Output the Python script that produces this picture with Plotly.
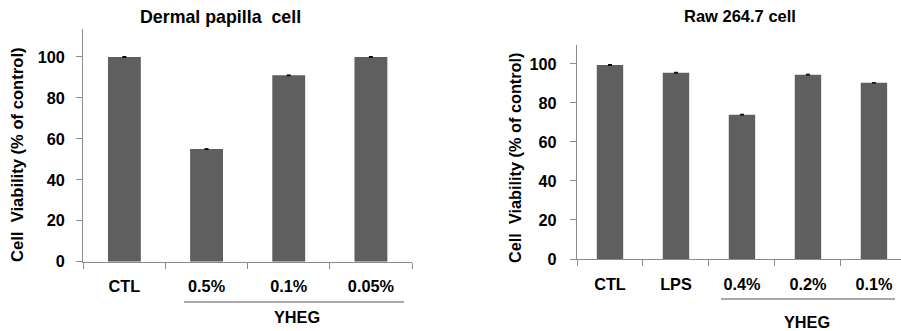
import plotly.graph_objects as go

W, H = 901, 331

# Data
left_title = "Dermal papilla  cell"
left_categories = ["CTL", "0.5%", "0.1%", "0.05%"]
left_values = [100, 55, 91, 100]
left_errors = [0.2, 0.2, 0.2, 0.2]

right_title = "Raw 264.7 cell"
right_categories = ["CTL", "LPS", "0.4%", "0.2%", "0.1%"]
right_values = [99.5, 95.5, 74, 94.5, 90.3]
right_errors = [0.2, 0.2, 0.2, 0.2, 0.0]

y_title = "Cell  Viability (% of control)"
group_label = "YHEG"

BAR = "#5f5f5f"
AXIS = "#8c8c8c"
FONT = "Liberation Sans, Arial, sans-serif"


def px(x):
    return x / W


def py(y):
    return 1 - y / H


fig = go.Figure()
fig.add_trace(go.Bar(
    x=left_categories, y=left_values, xaxis="x", yaxis="y",
    marker=dict(color=BAR, line=dict(width=0)), width=0.4,
    error_y=dict(type="data", array=left_errors, color="black", thickness=1, width=2),
    showlegend=False,
))
fig.add_trace(go.Bar(
    x=right_categories, y=right_values, xaxis="x2", yaxis="y2",
    marker=dict(color=BAR, line=dict(width=0)), width=0.4,
    error_y=dict(type="data", array=right_errors, color="black", thickness=1, width=2),
    showlegend=False,
))

tickfont = dict(family=FONT, size=16.3, color="black", weight="bold")
common_x = dict(type="category", showline=True, linecolor=AXIS, linewidth=1.3,
                ticks="outside", tickson="boundaries", ticklen=6, tickcolor=AXIS,
                tickwidth=1.3, showgrid=False, zeroline=False, tickfont=tickfont,
                fixedrange=True, automargin=False)
common_y = dict(showline=True, linecolor=AXIS, linewidth=1.3, ticks="outside",
                ticklen=6, tickcolor=AXIS, tickwidth=1.3, showgrid=False,
                zeroline=False, tickfont=tickfont, tickmode="linear", tick0=0,
                dtick=20, fixedrange=True, automargin=False)

fig.update_layout(
    width=W, height=H,
    margin=dict(l=0, r=0, t=0, b=0, pad=0, autoexpand=False),
    paper_bgcolor="white", plot_bgcolor="white",
    xaxis=dict(common_x, domain=[px(83.3), px(412)], anchor="y",
               range=[-0.5, 3.5], ticklabelstandoff=10),
    yaxis=dict(common_y, domain=[py(261.7), py(29.3)], anchor="x",
               range=[0, 113.5], ticklabelstandoff=8),
    xaxis2=dict(common_x, domain=[px(577), 1], anchor="y2",
                range=[-0.5, 4.41], ticklabelstandoff=10),
    yaxis2=dict(common_y, domain=[py(259), py(45)], anchor="x2",
                range=[0, 109.7], ticklabelstandoff=10),
    bargap=0.6,
)

ann = []
ann.append(dict(text=left_title, x=px(220), y=py(17), xref="paper", yref="paper",
                showarrow=False, xanchor="center", yanchor="middle",
                font=dict(family=FONT, size=17.8, color="black", weight="bold")))
ann.append(dict(text=right_title, x=px(740), y=py(16), xref="paper", yref="paper",
                showarrow=False, xanchor="center", yanchor="middle",
                font=dict(family=FONT, size=16.5, color="black", weight="bold")))
ann.append(dict(text=y_title, x=px(17), y=py(155), xref="paper", yref="paper",
                showarrow=False, xanchor="center", yanchor="middle", textangle=-90,
                font=dict(family=FONT, size=16.6, color="black", weight="bold")))
ann.append(dict(text=y_title, x=px(515), y=py(158), xref="paper", yref="paper",
                showarrow=False, xanchor="center", yanchor="middle", textangle=-90,
                font=dict(family=FONT, size=16.3, color="black", weight="bold")))
ann.append(dict(text=group_label, x=px(297), y=py(317), xref="paper", yref="paper",
                showarrow=False, xanchor="center", yanchor="middle",
                font=dict(family=FONT, size=16.3, color="black", weight="bold")))
ann.append(dict(text=group_label, x=px(807), y=py(322), xref="paper", yref="paper",
                showarrow=False, xanchor="center", yanchor="middle",
                font=dict(family=FONT, size=16.3, color="black", weight="bold")))
fig.update_layout(annotations=ann)

fig.add_shape(type="line", xref="paper", yref="paper", x0=px(184), x1=px(404),
              y0=py(302), y1=py(302), line=dict(color=AXIS, width=1.5))
fig.add_shape(type="line", xref="paper", yref="paper", x0=px(721), x1=px(895),
              y0=py(299), y1=py(299), line=dict(color=AXIS, width=1.5))

fig.write_html(
    "out.html",
    config=dict(displayModeBar=False),
    post_script="document.body.style.margin='0';document.body.style.overflow='hidden';",
)
